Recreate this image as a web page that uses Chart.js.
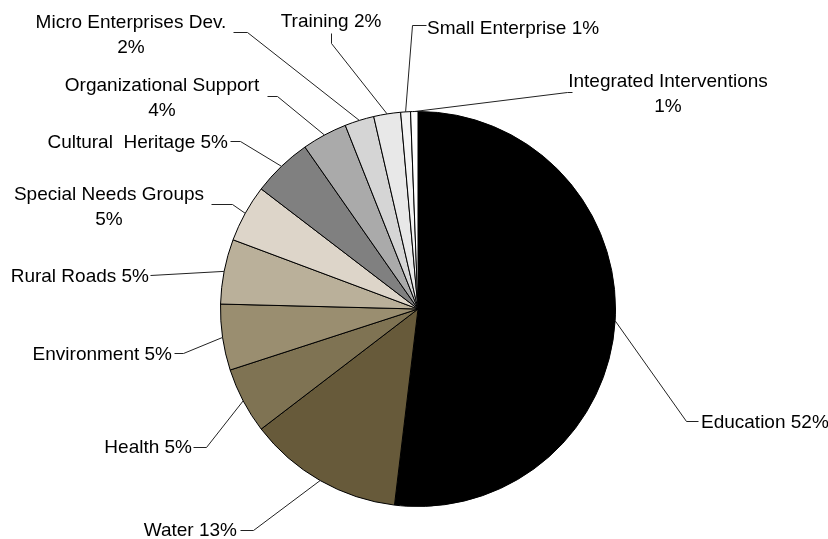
<!DOCTYPE html>
<html>
<head>
<meta charset="utf-8">
<script src="https://cdn.jsdelivr.net/npm/chart.js@4"></script>
<style>
  html, body { margin: 0; padding: 0; background: #fff; }
  #wrap { width: 828px; height: 539px; position: relative; }
</style>
</head>
<body>
<div id="wrap"><canvas id="pie"></canvas></div>
<script>
// slice data, clockwise from 12 o'clock
const categories = [
  'Education', 'Water', 'Health', 'Environment', 'Rural Roads',
  'Special Needs Groups', 'Cultural  Heritage', 'Organizational Support',
  'Micro Enterprises Dev.', 'Training', 'Small Enterprise', 'Integrated Interventions'
];
const shares = [51.9, 12.7, 5.4, 5.4, 5.3, 4.7, 4.9, 3.7, 2.4, 2.2, 0.8, 0.6];
const sliceColors = [
  '#000000', '#675a3a', '#7f7353', '#9a8e70', '#bab09a', '#ddd5c9',
  '#808080', '#aaaaaa', '#d5d5d5', '#e8e8e8', '#f4f4f4', '#ffffff'
];

// where each label sits: elbow point of leader, tail end, text anchor
const labelLayout = [
  { ex: 686, ey: 421, hx: 698, tx: 701, ty: 423, align: 'left' },
  { ex: 253, ey: 530, hx: 240, tx: 237, ty: 531, align: 'right' },
  { ex: 206, ey: 447, hx: 193, tx: 192, ty: 448, align: 'right' },
  { ex: 183, ey: 353, hx: 174, tx: 172, ty: 355, align: 'right' },
  { ex: 150, ey: 275, hx: 150, tx: 149, ty: 277, align: 'right' },
  { ex: 232, ey: 204, hx: 211, tx: 109, ty: 195, align: 'center', wrap: true },
  { ex: 240, ey: 141, hx: 230, tx: 228, ty: 143, align: 'right' },
  { ex: 277, ey: 96, hx: 267, tx: 162, ty: 86, align: 'center', wrap: true },
  { ex: 247, ey: 32, hx: 233, tx: 131, ty: 23, align: 'center', wrap: true },
  { ex: 331, ey: 43, hx: 331, tx: 331, ty: 22, align: 'center', vert: 33 },
  { ex: 412, ey: 25, hx: 426, tx: 427, ty: 29, align: 'left' },
  { ex: 567, ey: 92, hx: 572, tx: 668, ty: 82, align: 'center', wrap: true }
];

const total = shares.reduce((a, b) => a + b, 0);

const leaderLabels = {
  id: 'leaderLabels',
  afterDatasetsDraw(chart) {
    const ctx = chart.ctx;
    const arcs = chart.getDatasetMeta(0).data;
    ctx.save();
    ctx.font = '19px "Liberation Sans", Arial, sans-serif';
    ctx.fillStyle = '#000';
    ctx.textBaseline = 'middle';
    arcs.forEach((arc, i) => {
      const p = arc.getProps(['x', 'y', 'startAngle', 'endAngle', 'outerRadius'], true);
      const mid = (p.startAngle + p.endAngle) / 2;
      const sx = p.x + Math.cos(mid) * p.outerRadius;
      const sy = p.y + Math.sin(mid) * p.outerRadius;
      const lay = labelLayout[i];

      // leader line
      ctx.strokeStyle = '#222';
      ctx.lineWidth = 1;
      ctx.beginPath();
      ctx.moveTo(sx, sy);
      ctx.lineTo(lay.ex + 0.5, lay.ey + 0.5);
      if (lay.vert !== undefined) ctx.lineTo(lay.ex + 0.5, lay.vert + 0.5);
      else ctx.lineTo(lay.hx + 0.5, lay.ey + 0.5);
      ctx.stroke();

      // text
      const pct = Math.round(shares[i] / total * 100) + '%';
      ctx.textAlign = lay.align;
      if (lay.wrap) {
        ctx.fillText(categories[i], lay.tx, lay.ty);
        ctx.fillText(pct, lay.tx, lay.ty + 25);
      } else {
        ctx.fillText(categories[i] + ' ' + pct, lay.tx, lay.ty);
      }
    });
    ctx.restore();
  }
};

new Chart(document.getElementById('pie'), {
  type: 'pie',
  data: {
    labels: categories,
    datasets: [{
      data: shares,
      backgroundColor: sliceColors,
      borderColor: '#000',
      borderWidth: 1
    }]
  },
  options: {
    responsive: true,
    maintainAspectRatio: false,
    animation: false,
    layout: { padding: { left: 220, right: 212, top: 111, bottom: 32 } },
    plugins: {
      legend: { display: false },
      tooltip: { enabled: false }
    }
  },
  plugins: [leaderLabels]
});
</script>
</body>
</html>
